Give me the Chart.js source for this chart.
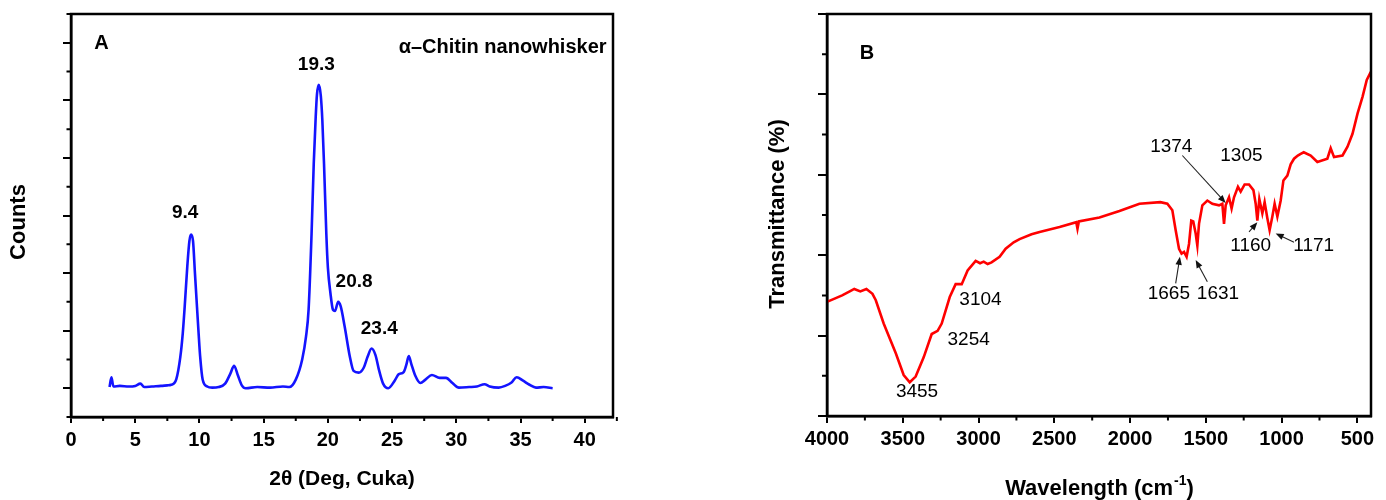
<!DOCTYPE html>
<html>
<head>
<meta charset="utf-8">
<script src="https://cdn.jsdelivr.net/npm/chart.js@4.4.0/dist/chart.umd.min.js"></script>
<style>
html,body{margin:0;padding:0;background:#fff;}
#wrap{position:relative;width:1386px;height:500px;overflow:hidden;background:#fff;}
#cA{position:absolute;left:0;top:0;width:640px;height:500px;}
#cB{position:absolute;left:700px;top:0;width:686px;height:500px;}
</style>
</head>
<body>
<div id="wrap">
<canvas id="cA" width="640" height="500"></canvas>
<canvas id="cB" width="686" height="500"></canvas>
</div>
<script>
// ---------- Panel A : XRD ----------
const xrdAngle = [3.0,3.15,3.3,3.8,4.5,5.0,5.4,5.7,6.3,7.0,
  7.5,7.8,8.2,8.51,8.7,8.85,9.05,9.22,9.35,9.5,
  9.65,9.81,9.95,10.06,10.25,10.6,11.0,11.5,12.0,12.4,
  12.7,13.0,13.3,13.6,14.5,15.5,16.5,17.0,17.5,18.0,
  18.3,18.5,18.73,18.9,19.05,19.15,19.29,19.45,19.57,19.7,
  19.88,20.0,20.2,20.4,20.55,20.8,21.0,21.3,21.7,22.0,
  22.4,22.8,23.1,23.4,23.7,24.0,24.3,24.7,25.2,25.5,
  25.9,26.1,26.3,26.5,26.8,27.2,27.6,28.1,28.7,29.2,
  29.7,30.2,31.0,31.6,32.2,32.6,33.3,33.8,34.3,34.7,
  35.2,35.7,36.2,36.8,37.5];
const xrdCounts = [0.02,0.19,0.03,0.04,0.03,0.04,0.08,0.02,0.03,0.04,
  0.05,0.06,0.16,0.54,0.95,1.41,2.1,2.56,2.67,2.56,
  2.0,1.41,0.9,0.54,0.15,0.03,0.01,0.02,0.08,0.25,
  0.39,0.22,0.05,0.0,0.02,0.01,0.03,0.02,0.15,0.5,
  0.9,1.37,2.68,3.9,4.7,5.1,5.27,5.08,4.65,3.9,
  2.68,2.1,1.65,1.36,1.34,1.50,1.42,1.08,0.56,0.30,
  0.27,0.36,0.55,0.69,0.58,0.30,0.08,0.0,0.13,0.24,
  0.28,0.40,0.56,0.42,0.22,0.09,0.15,0.23,0.18,0.18,
  0.09,0.01,0.02,0.03,0.07,0.03,0.01,0.04,0.10,0.19,
  0.13,0.06,0.01,0.02,0.0];
const xrdTickValues = [0,5,10,15,20,25,30,35,40];
const xrdCountTicks = [0,1,2,3,4,5,6];
const xrdPeakLabels = ['9.4','19.3','20.8','23.4'];
const xrdPeakPos = [[8.89,3.04],[19.1,5.62],[22.04,1.85],[24.0,1.03]];

// ---------- Panel B : FTIR ----------
const irWave = [4000,3950,3900,3850,3820,3780,3740,3700,3678,3626,
  3546,3494,3454,3415,3362,3309,3270,3243,3190,3151,
  3111,3072,3019,2990,2966,2940,2914,2861,2821,2768,
  2729,2650,2597,2465,2355,2347,2338,2202,2070,1938,
  1800,1754,1721,1699,1677,1660,1644,1627,1611,1596,
  1583,1567,1556,1545,1523,1490,1457,1413,1391,1380,
  1369,1347,1330,1314,1288,1270,1244,1215,1186,1171,
  1160,1147,1127,1112,1094,1079,1061,1046,1028,1006,
  988,962,940,918,893,874,854,808,764,698,
  676,654,598,565,532,499,466,438,411];
const irTrans = [1.42,1.46,1.50,1.55,1.58,1.55,1.58,1.52,1.44,1.15,
  0.78,0.51,0.42,0.49,0.73,1.02,1.06,1.15,1.48,1.64,
  1.64,1.81,1.93,1.90,1.92,1.89,1.91,1.98,2.08,2.16,
  2.20,2.26,2.29,2.35,2.41,2.33,2.42,2.47,2.55,2.64,
  2.66,2.64,2.56,2.31,2.08,2.02,2.04,1.98,2.14,2.43,
  2.42,2.27,2.12,2.39,2.62,2.68,2.64,2.62,2.64,2.39,
  2.62,2.72,2.58,2.72,2.85,2.79,2.88,2.88,2.81,2.64,
  2.43,2.70,2.52,2.66,2.46,2.31,2.48,2.64,2.48,2.68,
  2.93,2.99,3.13,3.20,3.24,3.26,3.28,3.24,3.16,3.20,
  3.33,3.22,3.24,3.35,3.51,3.76,3.97,4.18,4.28];
const irTickValues = [500,1000,1500,2000,2500,3000,3500,4000];
const irTransTicks = [0,1,2,3,4,5];
const irBandLabels = ['3455','3254','3104','1665','1631','1374','1305','1160','1171'];
const irBandPos = [[3406,0.30],[3065,0.95],[2987,1.45],[1744,1.52],[1420,1.52],[1728,3.35],[1265,3.24],[1204,2.12],[788,2.12]];
// arrows: [tailX, tailY, headX, headY]
const irArrows = [[1655,3.24,1369,2.65],[1699,1.65,1671,1.98],[1490,1.67,1567,1.94],[1215,2.29,1160,2.41],[918,2.16,1039,2.27]];

const FAM = "'Liberation Sans', Arial, Helvetica, sans-serif";

function extrasPlugin(cfg) {
  return {
    id: 'extras',
    afterDraw(chart) {
      const ctx = chart.ctx, a = chart.chartArea, x = chart.scales.x, y = chart.scales.y;
      ctx.save();
      ctx.strokeStyle = '#000';
      ctx.lineWidth = 2.5;
      ctx.strokeRect(a.left, a.top, a.right - a.left, a.bottom - a.top);
      ctx.lineWidth = 2;
      ctx.beginPath();
      cfg.xMinor.forEach(v => {
        const px = x.getPixelForValue(v);
        ctx.moveTo(px, a.bottom); ctx.lineTo(px, a.bottom + cfg.xMinorLen);
      });
      cfg.yMinor.forEach(v => {
        const py = y.getPixelForValue(v);
        ctx.moveTo(a.left, py); ctx.lineTo(a.left - cfg.yMinorLen, py);
      });
      ctx.stroke();
      (cfg.arrows || []).forEach(ar => {
        const x1 = x.getPixelForValue(ar[0]), y1 = y.getPixelForValue(ar[1]);
        const x2 = x.getPixelForValue(ar[2]), y2 = y.getPixelForValue(ar[3]);
        const ang = Math.atan2(y2 - y1, x2 - x1);
        const L = 8, W = 3.2;
        ctx.strokeStyle = '#222'; ctx.fillStyle = '#111'; ctx.lineWidth = 1.1;
        ctx.beginPath();
        ctx.moveTo(x1, y1);
        ctx.lineTo(x2 - Math.cos(ang) * L * 0.8, y2 - Math.sin(ang) * L * 0.8);
        ctx.stroke();
        ctx.beginPath();
        ctx.moveTo(x2, y2);
        ctx.lineTo(x2 - Math.cos(ang) * L - Math.sin(ang) * W, y2 - Math.sin(ang) * L + Math.cos(ang) * W);
        ctx.lineTo(x2 - Math.cos(ang) * L + Math.sin(ang) * W, y2 - Math.sin(ang) * L - Math.cos(ang) * W);
        ctx.closePath();
        ctx.fill();
      });
      ctx.fillStyle = '#000';
      ctx.textBaseline = 'middle';
      cfg.texts.forEach(t => {
        ctx.font = t.font;
        ctx.textAlign = t.align || 'center';
        ctx.fillText(t.text, x.getPixelForValue(t.x), y.getPixelForValue(t.y));
      });
      cfg.titles(ctx);
      ctx.restore();
    }
  };
}

function scaleBase(extra) {
  return Object.assign({
    grid: {drawOnChartArea: false, drawTicks: true, color: '#000', lineWidth: 2},
    border: {display: true, color: '#000', width: 2.5}
  }, extra);
}

// ---------- Chart A ----------
const textsA = xrdPeakLabels.map((s, i) => ({text: s, x: xrdPeakPos[i][0], y: xrdPeakPos[i][1], font: 'bold 19px ' + FAM}));
textsA.push({text: 'A', x: 2.38, y: 5.98, font: 'bold 20px ' + FAM});
textsA.push({text: 'α\u2013Chitin nanowhisker', x: 41.7, y: 5.92, font: 'bold 20px ' + FAM, align: 'right'});

new Chart(document.getElementById('cA'), {
  type: 'line',
  data: {datasets: [{
    data: xrdAngle.map((v, i) => ({x: v, y: xrdCounts[i]})),
    borderColor: '#1414ff', borderWidth: 2.6, pointRadius: 0, fill: false,
    cubicInterpolationMode: 'monotone'
  }]},
  options: {
    responsive: false, animation: false, events: [],
    layout: {padding: {left: 0, top: 14, right: 27, bottom: 0}},
    plugins: {legend: {display: false}, tooltip: {enabled: false}},
    scales: {
      x: scaleBase({
        type: 'linear', min: 0, max: 42.2,
        afterBuildTicks: s => { s.ticks = xrdTickValues.map(v => ({value: v})); },
        ticks: {color: '#000', font: {family: FAM, size: 20, weight: 'bold'}, padding: 5, maxRotation: 0, autoSkip: false, callback: v => String(v)},
        grid: {drawOnChartArea: false, drawTicks: true, color: '#000', lineWidth: 2, tickLength: 6},
        afterFit: s => { s.height = 83; s.paddingLeft = 0; s.paddingRight = 0; }
      }),
      y: scaleBase({
        type: 'linear', min: -0.5, max: 6.5,
        afterBuildTicks: s => { s.ticks = xrdCountTicks.map(v => ({value: v})); },
        ticks: {display: false},
        grid: {drawOnChartArea: false, drawTicks: true, color: '#000', lineWidth: 2, tickLength: 8},
        afterFit: s => { s.width = 71; s.paddingTop = 0; s.paddingBottom = 0; }
      })
    }
  },
  plugins: [extrasPlugin({
    xMinor: xrdTickValues.map(v => v + 2.5), xMinorLen: 4,
    yMinor: [-0.5].concat(xrdCountTicks.map(v => v + 0.5)), yMinorLen: 4.5,
    texts: textsA,
    titles: ctx => {
      ctx.font = 'bold 21px ' + FAM;
      ctx.textAlign = 'center'; ctx.textBaseline = 'middle';
      ctx.fillText('2θ (Deg, Cuka)', 342, 479);
      ctx.font = 'bold 22px ' + FAM;
      ctx.save();
      ctx.translate(19, 222);
      ctx.rotate(-Math.PI / 2);
      ctx.fillText('Counts', 0, 0);
      ctx.restore();
    }
  })]
});

// ---------- Chart B ----------
const textsB = irBandLabels.map((s, i) => ({text: s, x: irBandPos[i][0], y: irBandPos[i][1], font: '19px ' + FAM}));
textsB.push({text: 'B', x: 3736, y: 4.51, font: 'bold 20px ' + FAM});

new Chart(document.getElementById('cB'), {
  type: 'line',
  data: {datasets: [{
    data: irWave.map((v, i) => ({x: v, y: irTrans[i]})),
    borderColor: '#ff0000', borderWidth: 2.6, pointRadius: 0, fill: false,
    tension: 0
  }]},
  options: {
    responsive: false, animation: false, events: [],
    layout: {padding: {left: 0, top: 14, right: 15, bottom: 0}},
    plugins: {legend: {display: false}, tooltip: {enabled: false}},
    scales: {
      x: scaleBase({
        type: 'linear', min: 410, max: 4000, reverse: true,
        afterBuildTicks: s => { s.ticks = irTickValues.map(v => ({value: v})); },
        ticks: {color: '#000', font: {family: FAM, size: 20, weight: 'bold'}, padding: 4, maxRotation: 0, autoSkip: false, callback: v => String(v)},
        grid: {drawOnChartArea: false, drawTicks: true, color: '#000', lineWidth: 2, tickLength: 7},
        afterFit: s => { s.height = 84; s.paddingLeft = 0; s.paddingRight = 0; }
      }),
      y: scaleBase({
        type: 'linear', min: 0, max: 5,
        afterBuildTicks: s => { s.ticks = irTransTicks.map(v => ({value: v})); },
        ticks: {display: false},
        grid: {drawOnChartArea: false, drawTicks: true, color: '#000', lineWidth: 2, tickLength: 9},
        afterFit: s => { s.width = 127; s.paddingTop = 0; s.paddingBottom = 0; }
      })
    }
  },
  plugins: [extrasPlugin({
    xMinor: irTickValues.map(v => v + 250).filter(v => v < 4000), xMinorLen: 4.5,
    yMinor: irTransTicks.slice(0, -1).map(v => v + 0.5), yMinorLen: 5,
    texts: textsB,
    arrows: irArrows,
    titles: ctx => {
      ctx.textBaseline = 'alphabetic';
      const main = 'Wavelength (cm', sup = '-1', close = ')';
      ctx.font = 'bold 22px ' + FAM;
      const w1 = ctx.measureText(main).width, w3 = ctx.measureText(close).width;
      ctx.font = 'bold 14px ' + FAM;
      const w2 = ctx.measureText(sup).width;
      const total = w1 + w2 + w3;
      let sx = 399 - total / 2;
      const base = 495;
      ctx.textAlign = 'left';
      ctx.font = 'bold 22px ' + FAM;
      ctx.fillText(main, sx, base);
      ctx.font = 'bold 14px ' + FAM;
      ctx.fillText(sup, sx + w1 + 1, base - 10);
      ctx.font = 'bold 22px ' + FAM;
      ctx.fillText(close, sx + w1 + w2 + 1, base);
      ctx.save();
      ctx.translate(78, 214);
      ctx.rotate(-Math.PI / 2);
      ctx.textAlign = 'center'; ctx.textBaseline = 'middle';
      ctx.fillText('Transmittance (%)', 0, 0);
      ctx.restore();
    }
  })]
});
</script>
</body>
</html>
